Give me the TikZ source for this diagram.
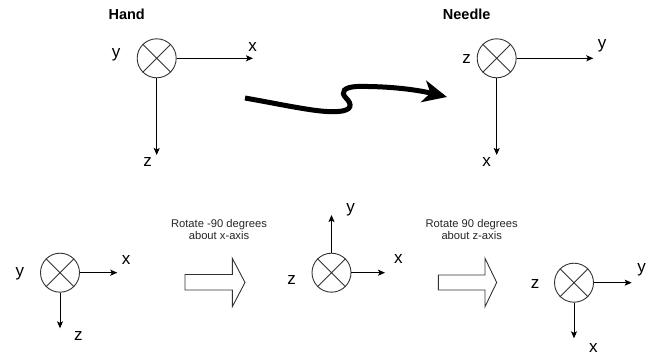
\documentclass[tikz,border=0pt]{standalone}
\usepackage{fontspec}
\setmainfont{Liberation Sans}
\usetikzlibrary{arrows.meta}
\begin{document}
\begin{tikzpicture}[x=1pt,y=-1pt,
  axisball/.style={circle,draw=black!80,line width=0.9pt,minimum size=39pt,inner sep=0pt},
  axisline/.style={line width=0.9pt,-{Stealth[length=7pt,width=6pt,inset=1.5pt]}},
  axislabel/.style={font=\fontsize{17}{17}\selectfont,inner sep=0pt},
  title/.style={font=\bfseries\fontsize{14.5}{15}\selectfont,inner sep=0pt},
  caption/.style={font=\fontsize{11.2}{12.3}\selectfont,align=center,inner sep=0pt,text=black!85},
  blockarrow/.style={draw=black!80,line width=0.9pt,fill=white,line join=miter}]
\useasboundingbox (0,0) rectangle (659,358);

% axis symbol: circle with a cross
\newcommand{\crossball}[2]{%
  \node[axisball] (#1) at #2 {};
  \draw[line width=0.9pt,black!80] (#1.north east) -- (#1.south west)
        (#1.north west) -- (#1.south east);}

% ---------- top row: hand frame ----------
\node[title] (hand) at (126.7,14) {Hand};
\crossball{hb}{(156.7,58.3)}
\coordinate (hxe) at (253,58.3);
\coordinate (hze) at (156.7,155);
\draw[axisline] (hb.east) -- (hxe);
\draw[axisline] (hb.south) -- (hze);
\node[axislabel] (hx) at (252.7,47) {x};
\node[axislabel] (hy) at (116,55) {y};
\node[axislabel] (hz) at (147.7,162) {z};

% ---------- top row: needle frame ----------
\node[title] (needle) at (466.7,14) {Needle};
\crossball{nb}{(496.7,58.3)}
\coordinate (nye) at (593.3,58.3);
\coordinate (nxe) at (496.7,155);
\draw[axisline] (nb.east) -- (nye);
\draw[axisline] (nb.south) -- (nxe);
\node[axislabel] (ny) at (602,46) {y};
\node[axislabel] (nz) at (466.7,59.5) {z};
\node[axislabel] (nx) at (486.7,162) {x};

% ---------- wavy transform arrow ----------
\coordinate (ws) at (245,98);
\coordinate (we) at (447,97);
\draw[line width=5pt,-{Stealth[length=24pt,width=22pt,inset=7pt]}]
  (ws) .. controls (290,106) and (320,113) .. (338,111.5)
       .. controls (353,110.5) and (352,104) .. (346,98)
       .. controls (340,92) and (344,87) .. (357,86.5)
       .. controls (390,86) and (418,90) .. (we);

% ---------- bottom row: start frame ----------
\crossball{ab}{(60,272.7)}
\coordinate (axe) at (117.3,272.7);
\coordinate (aze) at (60,328.3);
\draw[axisline] (ab.east) -- (axe);
\draw[axisline] (ab.south) -- (aze);
\node[axislabel] (ax) at (126,260) {x};
\node[axislabel] (ay) at (20,274) {y};
\node[axislabel] (az) at (78.3,336) {z};

% first rotation
\node[caption] (c1) at (219,229.5) {Rotate -90 degrees\\about x-axis};
\draw[blockarrow] (185,274.5) -- (232.3,274.5) -- (232.3,258.3) -- (245,282.5)
  -- (232.3,306.7) -- (232.3,290) -- (185,290) -- cycle;

% ---------- bottom row: intermediate frame ----------
\crossball{bb}{(331.5,272.7)}
\coordinate (bxe) at (385,272.7);
\coordinate (bye) at (331.5,215);
\draw[axisline] (bb.east) -- (bxe);
\draw[axisline] (bb.north) -- (bye);
\node[axislabel] (bx) at (398.3,259.5) {x};
\node[axislabel] (by) at (350.7,210) {y};
\node[axislabel] (bz) at (291.7,280) {z};

% second rotation
\node[caption] (c2) at (471.7,229.5) {Rotate 90 degrees\\about z-axis};
\draw[blockarrow] (438.3,275) -- (485,275) -- (485,258.3) -- (496.7,282.5)
  -- (485,306.7) -- (485,290) -- (438.3,290) -- cycle;

% ---------- bottom row: final frame ----------
\crossball{cb}{(574,282.7)}
\coordinate (cye) at (631.7,282.7);
\coordinate (cxe) at (574,338.3);
\draw[axisline] (cb.east) -- (cye);
\draw[axisline] (cb.south) -- (cxe);
\node[axislabel] (cy) at (641.7,270) {y};
\node[axislabel] (cz) at (535,284.5) {z};
\node[axislabel] (cx) at (593.3,348.5) {x};
\end{tikzpicture}
\end{document}
